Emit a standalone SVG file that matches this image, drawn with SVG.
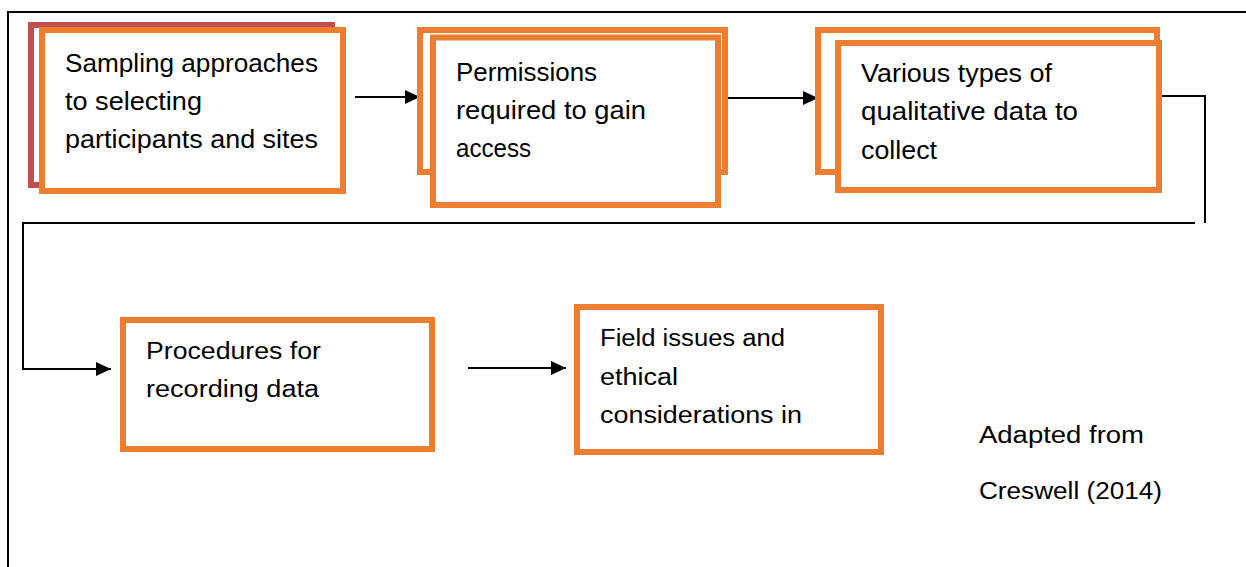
<svg xmlns="http://www.w3.org/2000/svg" width="1246" height="567" viewBox="0 0 1246 567">
  <style>
    .box { fill: #FFFFFF; stroke: #ED7D31; stroke-width: 6; }
    .back-red { fill: #FFFFFF; stroke: #C0504D; stroke-width: 6; }
    .line { fill: none; stroke: #000000; stroke-width: 2; }
    .t { font-family: "Liberation Sans", Arial, sans-serif; font-size: 26px; fill: #000000; }
    .tb { font-family: "Liberation Sans", Arial, sans-serif; font-size: 23px; fill: #000000; }
  </style>
  <defs>
    <marker id="arrow" markerUnits="userSpaceOnUse" markerWidth="16" markerHeight="16" refX="15" refY="7" orient="auto">
      <path d="M0,0 L15,7 L0,14 Z" fill="#000000"/>
    </marker>
  </defs>
  <rect x="0" y="0" width="1246" height="567" fill="#FFFFFF"/>
  <path class="line" d="M8 567 V12 H1246"/>

  <g id="connectors">
    <path class="line" d="M355 97 H420" marker-end="url(#arrow)"/>
    <path class="line" d="M725 98 H818" marker-end="url(#arrow)"/>
    <path class="line" d="M1162 96 H1205 V223"/>
    <path class="line" d="M1195 223 H23 V369 H111" marker-end="url(#arrow)"/>
    <path class="line" d="M468 368 H566" marker-end="url(#arrow)"/>
  </g>

  <g id="node-sampling">
    <rect class="back-red" x="31" y="25" width="301" height="160"/>
    <rect class="box" x="42" y="30" width="301" height="161"/>
    <text class="t" x="65" y="72" textLength="253" lengthAdjust="spacingAndGlyphs">Sampling approaches</text>
    <text class="t" x="65" y="110" textLength="137" lengthAdjust="spacingAndGlyphs">to selecting</text>
    <text class="t" x="65" y="148" textLength="253" lengthAdjust="spacingAndGlyphs">participants and sites</text>
  </g>

  <g id="node-permissions">
    <rect class="box" x="420" y="30" width="305" height="142"/>
    <rect class="box" x="433" y="37.5" width="285" height="167.5"/>
    <text class="t" x="456" y="81" textLength="141" lengthAdjust="spacingAndGlyphs">Permissions</text>
    <text class="t" x="456" y="119" textLength="190" lengthAdjust="spacingAndGlyphs">required to gain</text>
    <text class="t" x="456" y="157" textLength="75" lengthAdjust="spacingAndGlyphs">access</text>
  </g>

  <g id="node-data-types">
    <rect class="box" x="818" y="30" width="339" height="142"/>
    <rect class="box" x="838" y="43" width="321" height="147"/>
    <text class="t" x="861" y="82" textLength="191" lengthAdjust="spacingAndGlyphs">Various types of</text>
    <text class="t" x="861" y="120" textLength="217" lengthAdjust="spacingAndGlyphs">qualitative data to</text>
    <text class="t" x="861" y="159" textLength="76" lengthAdjust="spacingAndGlyphs">collect</text>
  </g>

  <g id="node-procedures">
    <rect class="box" x="123" y="320" width="309" height="129"/>
    <text class="tb" x="146" y="359" textLength="175" lengthAdjust="spacingAndGlyphs">Procedures for</text>
    <text class="tb" x="146" y="397" textLength="173" lengthAdjust="spacingAndGlyphs">recording data</text>
  </g>

  <g id="node-field-issues">
    <rect class="box" x="577" y="307" width="304" height="145"/>
    <text class="tb" x="600" y="346" textLength="185" lengthAdjust="spacingAndGlyphs">Field issues and</text>
    <text class="tb" x="600" y="385" textLength="78" lengthAdjust="spacingAndGlyphs">ethical</text>
    <text class="tb" x="600" y="423" textLength="202" lengthAdjust="spacingAndGlyphs">considerations in</text>
  </g>

  <g id="caption">
    <text class="tb" x="979" y="443" textLength="165" lengthAdjust="spacingAndGlyphs">Adapted from</text>
    <text class="tb" x="979" y="499" textLength="183" lengthAdjust="spacingAndGlyphs">Creswell (2014)</text>
  </g>
</svg>
